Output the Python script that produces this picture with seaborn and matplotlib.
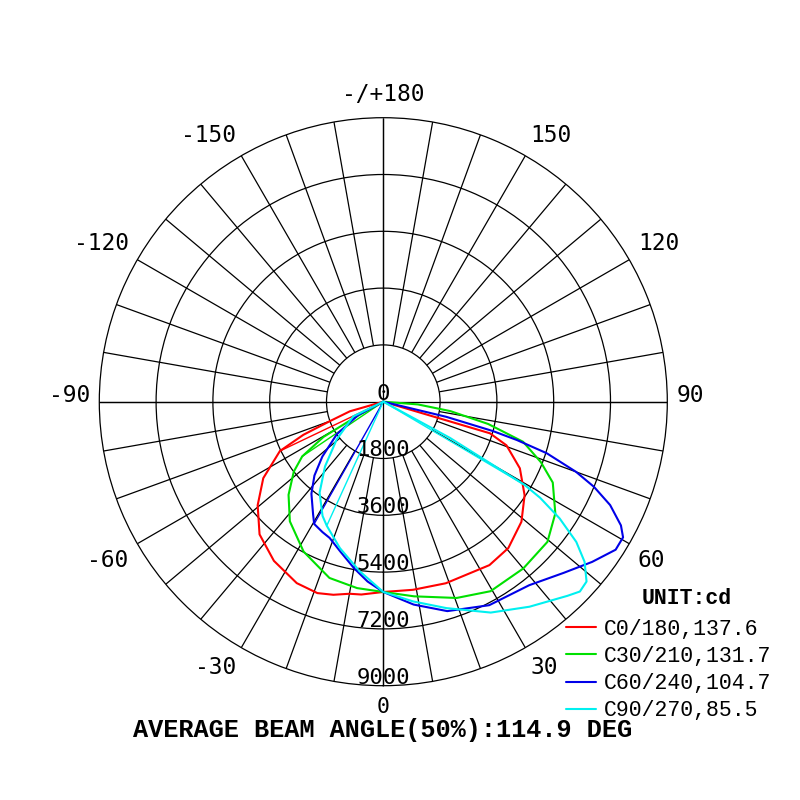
import numpy as np
import pandas as pd
import matplotlib
matplotlib.use("Agg")
import matplotlib.pyplot as plt
import matplotlib.transforms as mtransforms
from matplotlib.font_manager import FontProperties
import seaborn as sns

# ---------------- data ----------------
ring_values = [1800, 3600, 5400, 7200, 9000]
radial_labels = ["0", "1800", "3600", "5400", "7200", "9000"]
angle_ticks = [0, 30, 60, 90, 120, 150, 180, -150, -120, -90, -60, -30]
angle_labels = ["0", "30", "60", "90", "120", "150", "-/+180",
                "-150", "-120", "-90", "-60", "-30"]

series_names = ["C0/180,137.6", "C30/210,131.7", "C60/240,104.7", "C90/270,85.5"]

red_gamma = [-90, -78, -74, -70, -67.5, -64.5, -57.5, -50.5, -43, -34.5, -25.5,
             -19, -14.5, -10, -6.5, 0, 9, 19, 33, 40.5, 49, 56.5, 64, 70.5,
             73.5, 75, 90]
red_cd = [0, 0, 1100, 1800, 2740, 3630, 4510, 5160, 5750, 6120, 6370,
          6415, 6320, 6180, 6150, 6030, 6035, 6085, 6175, 6100, 5800, 5370,
          4815, 4140, 3525, 0, 0]

green_gamma = [-90, -64, -61, -59.5, -56, -52, -45.5, -38, -28, -17, -8, 0,
               9, 20.5, 29.5, 40, 49.5, 57, 64.5, 69, 74, 78, 82, 85.5, 90]
green_cd = [0, 0, 1000, 2200, 3100, 3600, 4210, 4810, 5380, 5840, 5965, 6030,
            6245, 6640, 6900, 6900, 6840, 6500, 5950, 5350, 4610, 3400, 2150,
            1100, 0]

blue_gamma = [-90, -66, -62, -55, -48, -43, -38, -32, -29.5, -25, -21.5, -16,
              -10, -5, 0, 8.5, 17, 27.5, 38.5, 46.5, 52.5, 57.5, 60.5, 62.5,
              65.5, 68, 70, 72.5, 74, 75, 76.5, 80, 90]
blue_cd = [0, 0, 900, 1800, 2600, 3200, 3700, 4200, 4450, 4560, 4640, 4940,
           5355, 5720, 6030, 6500, 6940, 7270, 7430, 7880, 8340, 8730, 8730,
           8490, 7900, 7200, 6500, 5430, 4400, 3600, 2050, 0, 0]

cyan_gamma = [-90, -67, -64, -51, -42, -35, -28, -24.5, -16.5, -8, 0, 8.5, 17,
              27, 35.5, 43.5, 46, 48.5, 51.5, 54, 56.5, 58.5, 59.5, 61.5, 64, 90]
cyan_cd = [0, 0, 1060, 1900, 2760, 3520, 4100, 4320, 4840, 5420, 6030, 6400,
           6840, 7500, 7980, 8480, 8660, 8600, 8150, 7560, 6700, 5830, 5200,
           2400, 0, 0]

# chords from the centre that the original drawing shows
red_rays = [-64.5]
green_rays = [-56]
blue_rays = [-29.5]
cyan_rays = [-24.5, 59.5]

colors = ["#ff0000", "#00e000", "#0000e8", "#00f0f0"]

curves = [(red_gamma, red_cd, red_rays), (green_gamma, green_cd, green_rays),
          (blue_gamma, blue_cd, blue_rays), (cyan_gamma, cyan_cd, cyan_rays)]

# ---------------- figure ----------------
sns.set_theme(style="white")
plt.rcParams["font.family"] = ["DejaVu Sans Mono", "DejaVu Sans"]
plt.rcParams["text.color"] = "black"
plt.rcParams["legend.labelcolor"] = "black"

fig = plt.figure(figsize=(8, 8), dpi=100)
fig.patch.set_facecolor("white")
R_PX = 284.0
cx, cy = 383.3, 800 - 401.7
ax = fig.add_axes([(cx - R_PX) / 800, (cy - R_PX) / 800, 2 * R_PX / 800, 2 * R_PX / 800],
                  projection="polar")
ax.set_facecolor("white")
ax.set_theta_zero_location("S")
ax.set_theta_direction(1)
rmax = ring_values[-1]
ax.set_ylim(0, rmax)

# grid
ax.set_xticks([])
ax.xaxis.grid(False)
ax.set_yticks(ring_values[:-1])
ax.set_yticklabels([])
ax.yaxis.grid(True, color="black", lw=0.9)
ax.spines["polar"].set_color("black")
ax.spines["polar"].set_linewidth(0.9)
spoke_angles = np.deg2rad(np.arange(0, 360, 10))
ax.vlines(spoke_angles, ring_values[0], rmax, colors="black", lw=0.9, zorder=1)
ax.vlines(np.deg2rad([0, 90, 180, 270]), 0, rmax, colors="black", lw=0.9, zorder=1)

# curves
handles = []
for (g, v, rays), col, name in zip(curves, colors, series_names):
    df = pd.DataFrame({"theta": np.deg2rad(g), "cd": v})
    sns.lineplot(data=df, x="theta", y="cd", sort=False, estimator=None,
                 color=col, lw=1.5, ax=ax, zorder=3)
    handles.append(ax.lines[-1])
    for ra in rays:
        rv = np.interp(ra, g, v)
        ax.plot(np.deg2rad([ra, ra]), [0, rv], color=col, lw=1.0, zorder=3)

if ax.get_legend() is not None:
    ax.get_legend().remove()
ax.set_xlabel("")
ax.set_ylabel("")

# radial labels
lab_tr = mtransforms.offset_copy(ax.transData, fig=fig, x=0, y=2, units="dots")
for val, txt in zip([0] + ring_values, radial_labels):
    ax.text(0, val, txt, transform=lab_tr, ha="center", va="baseline",
            fontsize=16, family="DejaVu Sans Mono", color="black", zorder=5)

# angle labels
for a, txt in zip(angle_ticks, angle_labels):
    s, c = np.sin(np.deg2rad(a)), np.cos(np.deg2rad(a))
    fs = 16.5
    if abs(s) < 1e-6:
        ha = "center"
    else:
        ha = "left" if s > 0 else "right"
    if abs(c) < 1e-6:
        va = "baseline"
        rr = rmax * (1 + 9 / R_PX)
    elif abs(s) < 1e-6 and c > 0:
        va = "baseline"
        rr = rmax * (1 + 311 / R_PX - 1)
        fs = 15.5
    elif abs(s) < 1e-6:
        va = "bottom"
        rr = rmax * (1 + 12 / R_PX)
    else:
        va = "top" if c > 0 else "bottom"
        rr = rmax * (1 + 10 / R_PX)
    ax.text(np.deg2rad(a), rr, txt, ha=ha, va=va, fontsize=fs,
            family="DejaVu Sans Mono", color="black", clip_on=False)

# legend
leg_font = FontProperties(family="Liberation Mono", size=15.5)
ax.legend(handles, series_names, loc="upper left",
          bbox_to_anchor=(566 / 800, 1 - 619 / 800), bbox_transform=fig.transFigure,
          frameon=False, borderpad=0, borderaxespad=0, handlelength=1.4,
          handletextpad=0.35, labelspacing=0.28, prop=leg_font)

fig.text(641.7 / 800, 1 - 599 / 800, "UNIT:cd", ha="left", va="center",
         fontsize=15.5, family="Liberation Mono", weight="bold", color="black")
fig.text(133.3 / 800, 1 - 730 / 800, "AVERAGE BEAM ANGLE(50%):114.9 DEG",
         ha="left", va="center", fontsize=18.2, family="Liberation Mono",
         weight="bold", color="black")

fig.savefig("out.png", dpi=100, facecolor="white")
